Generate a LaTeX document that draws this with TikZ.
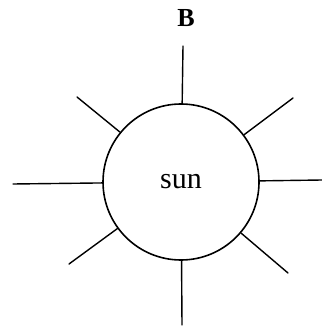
\documentclass[tikz,border=0pt]{standalone}
\usepackage{fontspec}
\setmainfont{Liberation Serif}
\begin{document}
\begin{tikzpicture}[x=1pt,y=-1pt,
  ray/.style={line width=1.4pt, line cap=round},
  sunbody/.style={circle, draw, line width=1.6pt, minimum size=156pt, inner sep=0pt}]
\useasboundingbox (0,0) rectangle (321,328);
\node[sunbody] (sun) at (181,182) {\fontsize{30}{32}\selectfont sun};
\node (lab) at (186,18) {\fontsize{26}{28}\selectfont\textbf{B}};
\coordinate (t) at (183,46);
\coordinate (b) at (182,325);
\coordinate (l) at (13,184);
\coordinate (r) at (322,180);
\coordinate (ul) at (77,97);
\coordinate (ur) at (293,98);
\coordinate (ll) at (69,264);
\coordinate (lr) at (288,273);
\foreach \e in {t,b,l,r,ul,ur,ll,lr} \draw[ray] (sun) -- (\e);
\end{tikzpicture}
\end{document}
